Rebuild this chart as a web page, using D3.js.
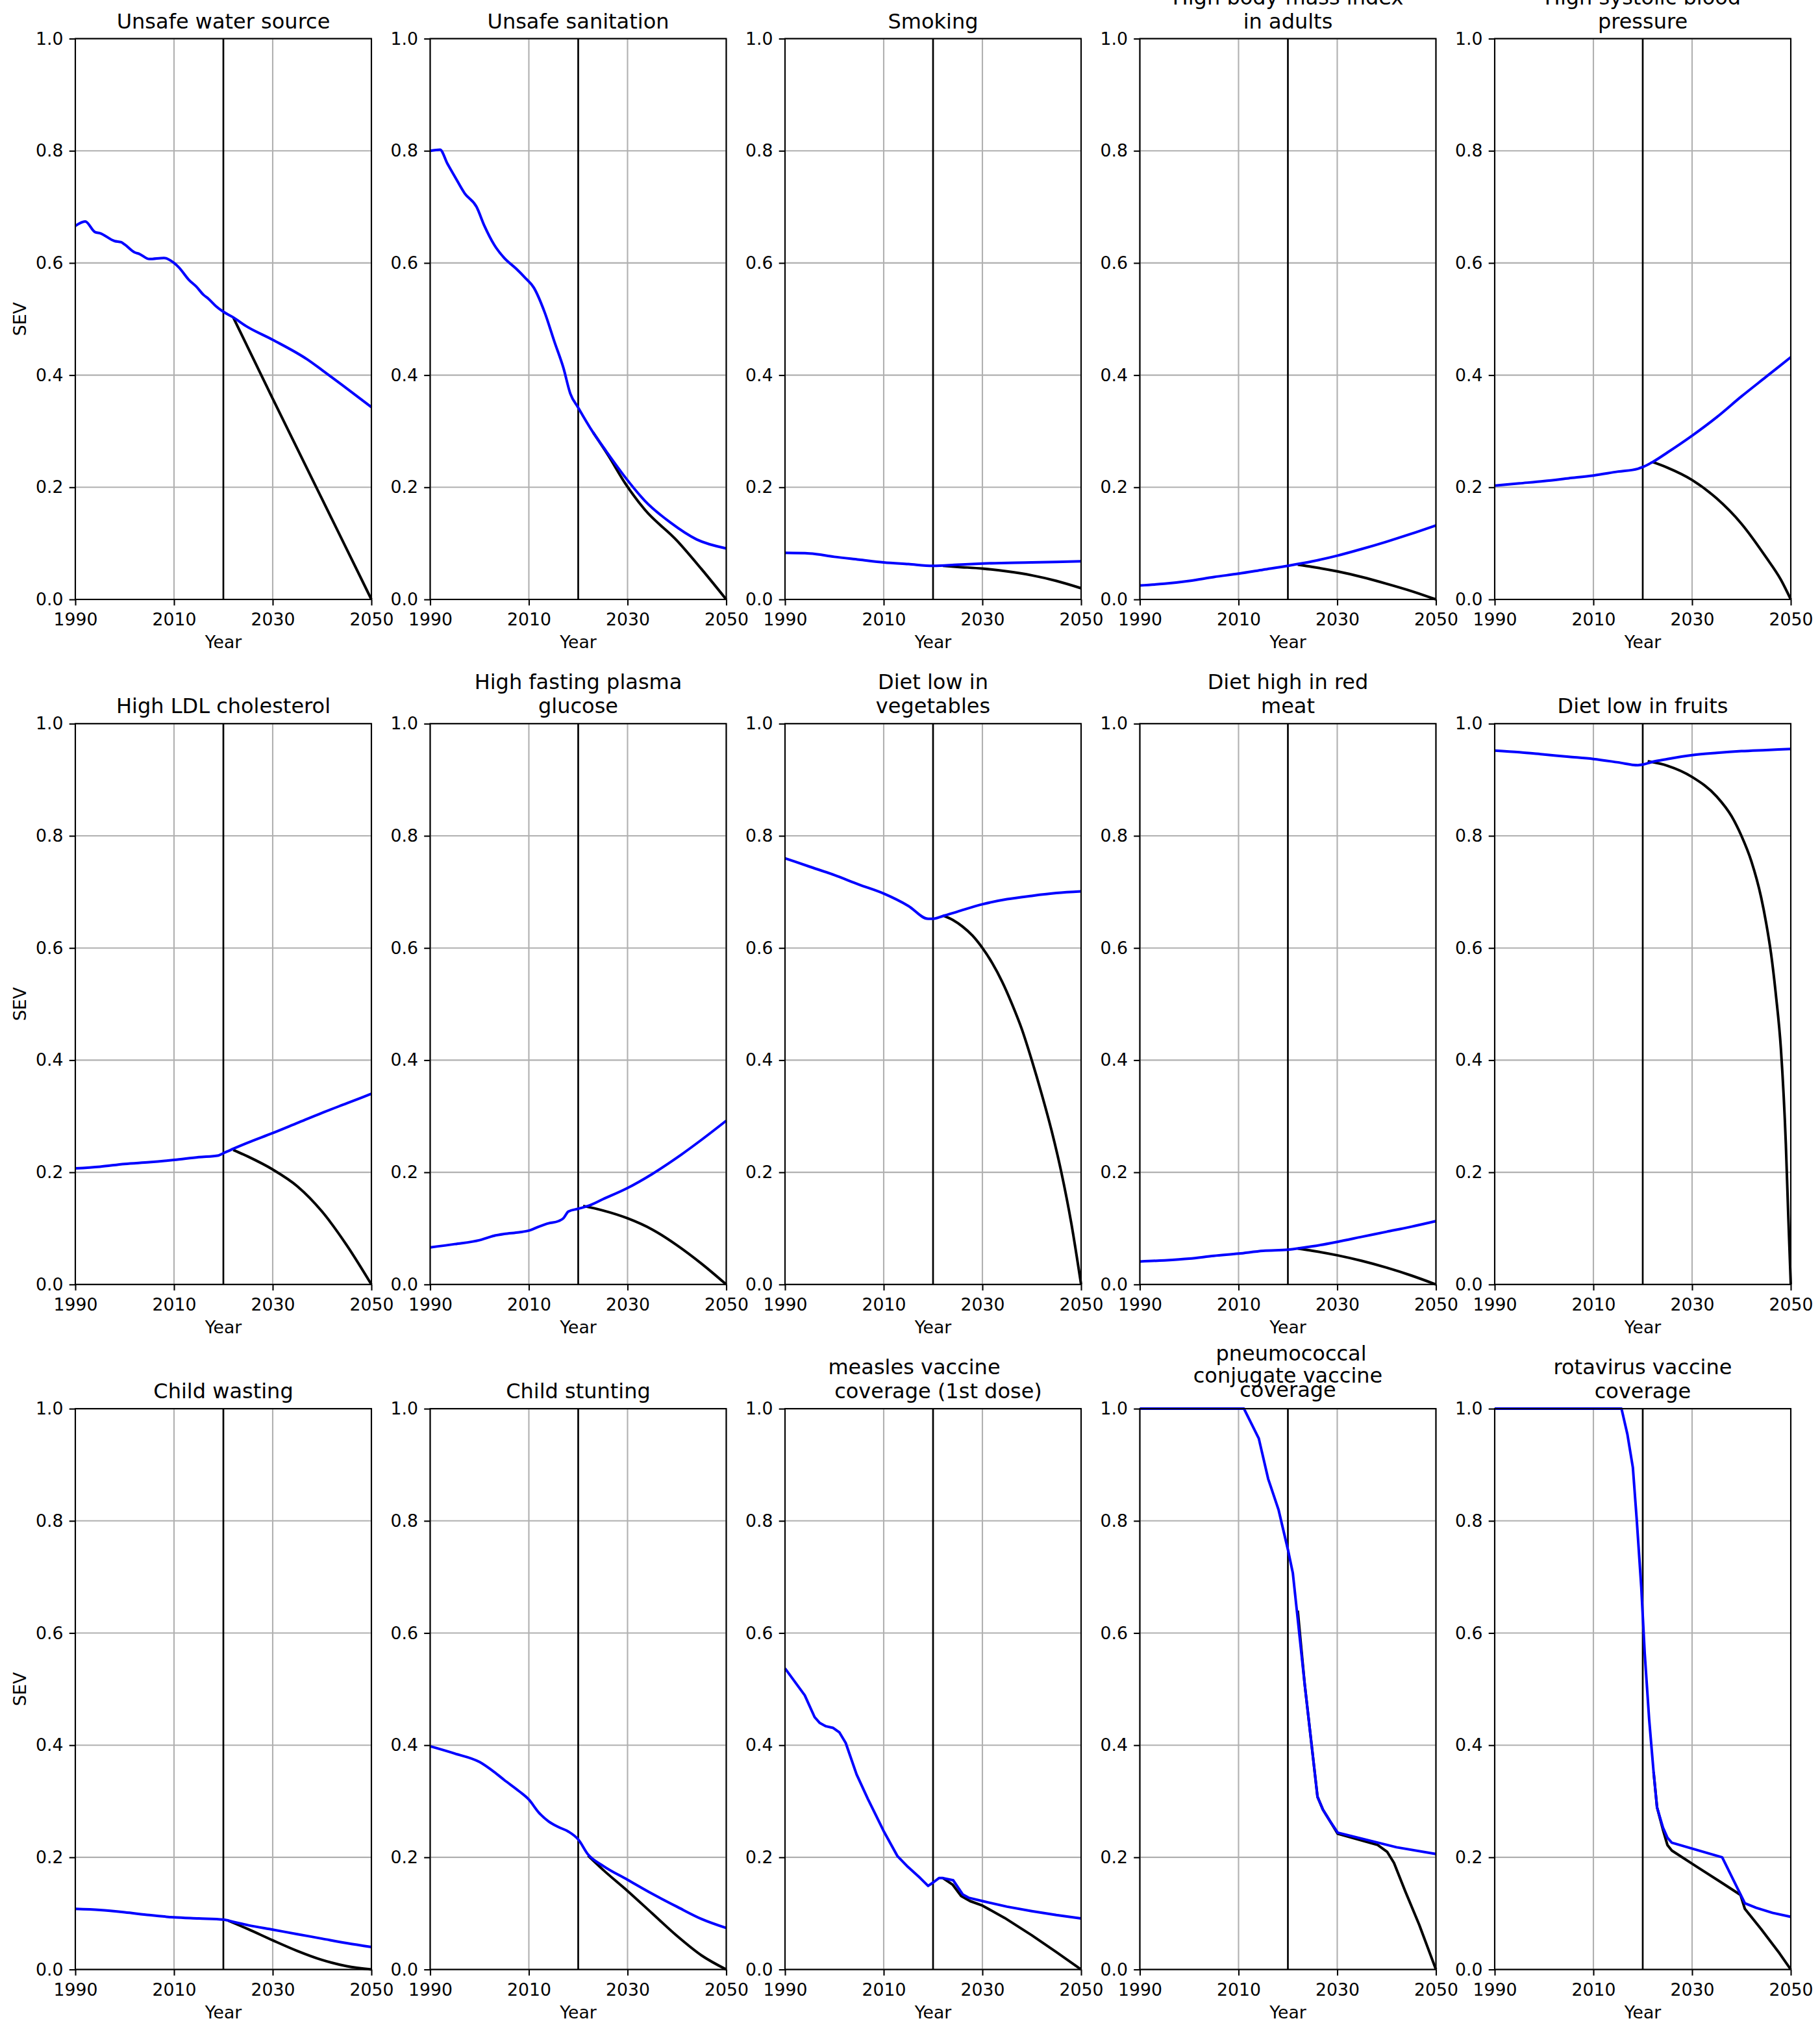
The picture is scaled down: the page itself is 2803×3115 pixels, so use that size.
<!DOCTYPE html>
<html>
<head>
<meta charset="utf-8">
<script src="https://cdn.jsdelivr.net/npm/d3@7"></script>
<style>
  html, body { margin: 0; padding: 0; background: #fff; }
  svg { display: block; }
  text { font-family: "DejaVu Sans", sans-serif; }
</style>
</head>
<body>
<svg id="chart" width="2803" height="3115"></svg>
<script>
// ---------------- DATA ----------------
const xTicks = [1990, 2010, 2030, 2050];
const yTicks = [0, 0.2, 0.4, 0.6, 0.8, 1.0];
const cutYear = 2020;

const titles = [
  ["Unsafe water source"],
  ["Unsafe sanitation"],
  ["Smoking"],
  ["High body-mass index", "in adults"],
  ["High systolic blood", "pressure"],
  ["High LDL cholesterol"],
  ["High fasting plasma", "glucose"],
  ["Diet low in", "vegetables"],
  ["Diet high in red", "meat"],
  ["Diet low in fruits"],
  ["Child wasting"],
  ["Child stunting"],
  ["measles vaccine", "coverage (1st dose)"],
  ["pneumococcal", "conjugate vaccine", "coverage"],
  ["rotavirus vaccine", "coverage"]
];

const waterBlue = [[1990,0.666],[1992,0.674],[1994,0.655],[1995,0.653],[1998,0.639],[1999.3,0.637],[2000,0.633],[2002,0.619],[2003,0.616],[2005,0.607],[2008,0.609],[2010,0.600],[2011,0.592],[2013,0.570],[2014.5,0.558],[2016,0.543],[2017,0.536],[2018.5,0.523],[2020,0.513],[2022,0.503],[2024.5,0.488],[2030,0.463],[2037,0.428],[2040,0.409],[2044,0.383],[2050,0.343]];
const waterBlack = [[2022,0.503],[2030,0.358],[2040,0.179],[2050,0.0]];

const sanitBlue = [[1990,0.800],[1992,0.802],[1993.5,0.777],[1995,0.754],[1997,0.724],[1999.4,0.700],[2001,0.666],[2003,0.632],[2005,0.609],[2007.4,0.590],[2009.2,0.574],[2011,0.556],[2013.2,0.512],[2015.2,0.459],[2017,0.413],[2018.4,0.367],[2020,0.342],[2023,0.298],[2025.7,0.264],[2029.6,0.217],[2033.5,0.176],[2038.7,0.137],[2044,0.107],[2050,0.091]];
const sanitBlack = [[2023,0.298],[2026,0.258],[2029.6,0.206],[2033.5,0.160],[2040,0.105],[2045,0.054],[2050,0.0]];

const smokeBlue = [[1990,0.083],[1995,0.082],[2000,0.076],[2005,0.071],[2010,0.066],[2015,0.063],[2020,0.060],[2025,0.062],[2030,0.064],[2040,0.066],[2050,0.068]];
const smokeBlack = [[2022,0.060],[2025,0.058],[2030,0.055],[2035,0.050],[2040,0.043],[2045,0.033],[2050,0.020]];

const bmiBlue = [[1990,0.025],[1995,0.028],[2000,0.033],[2005,0.040],[2010,0.046],[2015,0.053],[2020,0.060],[2025,0.068],[2030,0.078],[2035,0.090],[2040,0.103],[2045,0.117],[2050,0.132]];
const bmiBlack = [[2022,0.062],[2025,0.058],[2030,0.050],[2035,0.040],[2040,0.028],[2045,0.015],[2050,0.0]];

const sbpBlue = [[1990,0.203],[1995,0.207],[2000,0.211],[2005,0.216],[2010,0.221],[2015,0.228],[2019,0.233],[2020,0.236],[2022,0.245],[2025,0.262],[2030,0.292],[2035,0.325],[2040,0.362],[2045,0.397],[2050,0.432]];
const sbpBlack = [[2022,0.245],[2025,0.235],[2030,0.213],[2035,0.180],[2040,0.135],[2045,0.075],[2048,0.035],[2050,0.0]];

const ldlBlue = [[1990,0.207],[1995,0.210],[2000,0.215],[2005,0.218],[2010,0.222],[2015,0.227],[2019,0.230],[2020,0.234],[2022,0.242],[2025,0.253],[2030,0.270],[2035,0.288],[2040,0.306],[2045,0.323],[2050,0.340]];
const ldlBlack = [[2022,0.240],[2025,0.228],[2030,0.205],[2035,0.175],[2040,0.130],[2045,0.070],[2050,0.0]];

const fpgBlue = [[1990,0.066],[1995,0.072],[2000,0.079],[2003,0.087],[2005,0.090],[2008,0.093],[2010,0.096],[2012,0.103],[2014,0.109],[2016,0.113],[2017,0.118],[2018,0.130],[2020,0.135],[2022,0.140],[2025,0.152],[2030,0.172],[2035,0.197],[2040,0.226],[2045,0.258],[2050,0.292]];
const fpgBlack = [[2021,0.140],[2025,0.132],[2030,0.118],[2035,0.098],[2040,0.070],[2045,0.037],[2050,0.0]];

const vegBlue = [[1990,0.760],[1995,0.745],[2000,0.730],[2005,0.713],[2010,0.697],[2015,0.675],[2019,0.652],[2020,0.652],[2022,0.657],[2025,0.665],[2030,0.678],[2035,0.687],[2040,0.693],[2045,0.698],[2050,0.701]];
const vegBlack = [[2022,0.658],[2024,0.650],[2026,0.638],[2028,0.622],[2030,0.600],[2032,0.573],[2034,0.540],[2036,0.500],[2038,0.455],[2040,0.400],[2042,0.340],[2044,0.275],[2046,0.200],[2048,0.110],[2050,0.0]];

const meatBlue = [[1990,0.041],[1995,0.043],[2000,0.046],[2005,0.051],[2010,0.055],[2015,0.060],[2020,0.062],[2025,0.068],[2030,0.076],[2035,0.085],[2040,0.094],[2045,0.103],[2050,0.113]];
const meatBlack = [[2022,0.064],[2025,0.060],[2030,0.052],[2035,0.042],[2040,0.030],[2045,0.016],[2050,0.0]];

const fruitBlue = [[1990,0.952],[1995,0.949],[2000,0.945],[2005,0.941],[2010,0.937],[2015,0.931],[2019,0.926],[2020,0.927],[2022,0.932],[2025,0.937],[2030,0.944],[2035,0.948],[2040,0.951],[2045,0.953],[2050,0.955]];
const fruitBlack = [[2021,0.933],[2025,0.925],[2030,0.905],[2035,0.870],[2038,0.835],[2040,0.800],[2042,0.755],[2044,0.690],[2045,0.645],[2046,0.590],[2047,0.515],[2048,0.420],[2049,0.250],[2049.5,0.120],[2050,0.0]];

const wastBlue = [[1990,0.108],[1995,0.106],[2000,0.102],[2005,0.097],[2010,0.093],[2015,0.091],[2020,0.089],[2022,0.085],[2025,0.079],[2030,0.071],[2035,0.063],[2040,0.055],[2045,0.047],[2050,0.040]];
const wastBlack = [[2021,0.087],[2025,0.072],[2030,0.052],[2035,0.033],[2040,0.017],[2045,0.006],[2050,0.0]];

const stuntBlue = [[1990,0.398],[1995,0.385],[2000,0.370],[2003,0.352],[2005,0.338],[2008,0.318],[2010,0.303],[2012,0.280],[2014,0.264],[2016,0.254],[2018,0.246],[2020,0.232],[2022,0.205],[2025,0.185],[2030,0.160],[2035,0.135],[2040,0.112],[2045,0.090],[2050,0.074]];
const stuntBlack = [[2022,0.203],[2025,0.178],[2030,0.140],[2035,0.100],[2040,0.060],[2045,0.025],[2050,0.0]];

const measBlue = [[1990,0.537],[1994,0.489],[1996,0.450],[1997,0.440],[1998.2,0.434],[1999.7,0.431],[2001,0.423],[2002.3,0.404],[2004.5,0.348],[2006.8,0.304],[2010.1,0.245],[2012.8,0.202],[2014.9,0.183],[2017.4,0.163],[2019,0.149],[2020,0.155],[2021.2,0.163],[2022,0.163],[2024.1,0.159],[2026,0.134],[2027.2,0.128],[2030,0.122],[2035,0.112],[2040,0.104],[2045,0.097],[2050,0.091]];
const measBlack = [[2022,0.163],[2024,0.151],[2025.7,0.131],[2027.5,0.122],[2030,0.114],[2034.5,0.092],[2040,0.061],[2045,0.031],[2050,0.0]];

const pneuBlue = [[1990,1.0],[2000,1.0],[2011.1,1.0],[2014.1,0.947],[2016,0.875],[2018.1,0.820],[2020.1,0.745],[2021,0.707],[2023.4,0.509],[2026,0.308],[2027.1,0.285],[2028.5,0.265],[2030.1,0.244],[2042,0.218],[2050,0.206]];
const pneuBlack = [[2022,0.640],[2023.4,0.509],[2026,0.308],[2027.1,0.285],[2028.5,0.265],[2030.1,0.242],[2038.2,0.222],[2040.1,0.210],[2041.5,0.190],[2043.8,0.139],[2046.6,0.080],[2050,0.0]];

const rotaBlue = [[1990,1.0],[2000,1.0],[2015.7,1.0],[2016.9,0.954],[2018,0.895],[2018.8,0.800],[2019.7,0.682],[2020.4,0.564],[2021.3,0.446],[2022.2,0.352],[2022.9,0.289],[2024.1,0.253],[2025,0.235],[2025.9,0.226],[2036.1,0.200],[2040.7,0.118],[2043,0.110],[2046.3,0.101],[2050,0.094]];
const rotaBlack = [[2022.2,0.352],[2022.9,0.289],[2024.1,0.249],[2025,0.222],[2025.9,0.212],[2031,0.183],[2035.6,0.157],[2039.8,0.133],[2040.7,0.108],[2044,0.072],[2047.7,0.029],[2050,0.0]];

const blueSeries = [waterBlue, sanitBlue, smokeBlue, bmiBlue, sbpBlue, ldlBlue, fpgBlue, vegBlue, meatBlue, fruitBlue, wastBlue, stuntBlue, measBlue, pneuBlue, rotaBlue];
const blackSeries = [waterBlack, sanitBlack, smokeBlack, bmiBlack, sbpBlack, ldlBlack, fpgBlack, vegBlack, meatBlack, fruitBlack, wastBlack, stuntBlack, measBlack, pneuBlack, rotaBlack];

// ---------------- LAYOUT / STYLE ----------------
const L = {
  left0: 116, colStep: 546.5, pw: 456,
  top0: 59.5, rowStep: 1054.8, ph: 863.5,
  titleSize: 32, tickSize: 26.7, lineGap: 37, titlePad: 16
};
// special title line baselines (offset from axes top), and x shifts
const titleBaselines = { 13: [-74, -40, -18] };
const titleDx = { 12: [-29, 8], 13: [5, 0, 0] };
// panels whose lines have sharp kinks are drawn with straight segments
const linearPanels = new Set([12, 13, 14]);

const svg = d3.select("#chart");
svg.append("rect").attr("width", 2803).attr("height", 3115).attr("fill", "#fff");

blueSeries.forEach((blue, i) => {
  const col = i % 5, row = Math.floor(i / 5);
  const x0 = L.left0 + col * L.colStep;
  const y0 = L.top0 + row * L.rowStep;
  const g = svg.append("g").attr("transform", `translate(${x0},${y0})`);
  const x = d3.scaleLinear().domain([1990, 2050]).range([0, L.pw]);
  const y = d3.scaleLinear().domain([0, 1]).range([L.ph, 0]);

  // grid
  g.append("g").selectAll("line").data(xTicks).join("line")
    .attr("x1", d => x(d)).attr("x2", d => x(d)).attr("y1", 0).attr("y2", L.ph)
    .attr("stroke", "#b0b0b0").attr("stroke-width", 2.1);
  g.append("g").selectAll("line").data(yTicks).join("line")
    .attr("y1", d => y(d)).attr("y2", d => y(d)).attr("x1", 0).attr("x2", L.pw)
    .attr("stroke", "#b0b0b0").attr("stroke-width", 2.1);

  // vertical cut line
  g.append("line").attr("x1", x(cutYear)).attr("x2", x(cutYear))
    .attr("y1", 0).attr("y2", L.ph).attr("stroke", "#000").attr("stroke-width", 2.7);

  const line = d3.line().x(d => x(d[0])).y(d => y(d[1]))
    .curve(linearPanels.has(i) ? d3.curveLinear : d3.curveMonotoneX);
  g.append("path").datum(blackSeries[i]).attr("d", line)
    .attr("fill", "none").attr("stroke", "#000").attr("stroke-width", 4)
    .attr("stroke-linejoin", "round").attr("stroke-linecap", "butt");
  g.append("path").datum(blue).attr("d", line)
    .attr("fill", "none").attr("stroke", "#0000ff").attr("stroke-width", 4)
    .attr("stroke-linejoin", "round").attr("stroke-linecap", "butt");

  // spines
  g.append("rect").attr("x", 0).attr("y", 0).attr("width", L.pw).attr("height", L.ph)
    .attr("fill", "none").attr("stroke", "#000").attr("stroke-width", 2.1);

  // axes
  const ax = g.append("g").attr("transform", `translate(0,${L.ph})`)
    .call(d3.axisBottom(x).tickValues(xTicks).tickFormat(d3.format("d")).tickSize(9.3).tickPadding(12));
  const ay = g.append("g")
    .call(d3.axisLeft(y).tickValues(yTicks).tickFormat(d3.format(".1f")).tickSize(9.3).tickPadding(9.3));
  [ax, ay].forEach(a => {
    a.select(".domain").remove();
    a.selectAll("line").attr("stroke", "#000").attr("stroke-width", 2.1);
    a.selectAll("text").attr("fill", "#000").style("font-family", "'DejaVu Sans', sans-serif").style("font-size", L.tickSize + "px");
    a.attr("font-family", null).attr("font-size", null);
  });

  // x label
  g.append("text").attr("x", L.pw / 2).attr("y", L.ph + 75).attr("text-anchor", "middle")
    .style("font-size", L.tickSize + "px").text("Year");
  // y label
  if (col === 0) {
    g.append("text").attr("transform", `translate(${40 - x0},${L.ph / 2}) rotate(-90)`)
      .attr("text-anchor", "middle").style("font-size", L.tickSize + "px").text("SEV");
  }

  // title
  const lines = titles[i];
  const n = lines.length;
  lines.forEach((t, k) => {
    const base = titleBaselines[i] ? titleBaselines[i][k] : -(L.titlePad + (n - 1 - k) * L.lineGap);
    const dx = titleDx[i] ? titleDx[i][k] : 0;
    g.append("text").attr("x", L.pw / 2 + dx).attr("y", base)
      .attr("text-anchor", "middle").style("font-size", L.titleSize + "px").text(t);
  });
});
</script>
</body>
</html>
